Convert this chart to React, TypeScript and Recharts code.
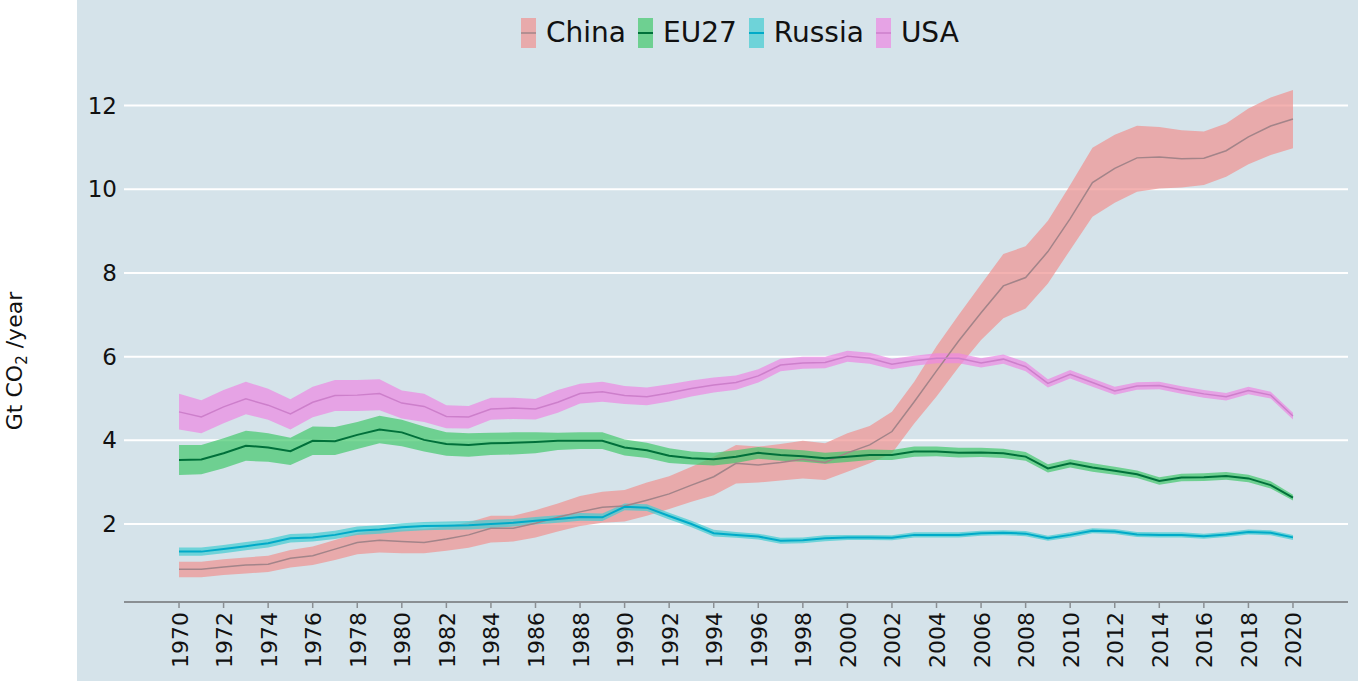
import React from 'react';
import { ComposedChart, Area, Line, XAxis, YAxis, CartesianGrid } from 'recharts';

const years = [1970,1971,1972,1973,1974,1975,1976,1977,1978,1979,1980,1981,1982,1983,1984,1985,1986,1987,1988,1989,1990,1991,1992,1993,1994,1995,1996,1997,1998,1999,2000,2001,2002,2003,2004,2005,2006,2007,2008,2009,2010,2011,2012,2013,2014,2015,2016,2017,2018,2019,2020];

const chinaMid = [0.92,0.92,0.97,1.02,1.04,1.18,1.24,1.40,1.56,1.61,1.58,1.56,1.64,1.74,1.90,1.90,2.02,2.16,2.29,2.40,2.43,2.57,2.72,2.93,3.13,3.45,3.41,3.47,3.55,3.47,3.70,3.89,4.21,4.92,5.66,6.38,7.05,7.69,7.89,8.51,9.30,10.16,10.50,10.75,10.77,10.73,10.74,10.92,11.25,11.51,11.68];
const chinaHi = [1.10,1.10,1.16,1.20,1.24,1.38,1.46,1.62,1.78,1.86,1.86,1.88,1.94,2.04,2.20,2.20,2.33,2.49,2.67,2.77,2.81,2.99,3.14,3.37,3.61,3.89,3.85,3.91,3.99,3.93,4.17,4.34,4.68,5.40,6.25,7.00,7.73,8.45,8.64,9.25,10.10,10.99,11.30,11.52,11.49,11.41,11.38,11.57,11.93,12.19,12.37];
const chinaLo = [0.73,0.73,0.78,0.82,0.85,0.96,1.02,1.14,1.28,1.32,1.30,1.30,1.36,1.43,1.56,1.58,1.68,1.82,1.95,2.03,2.06,2.20,2.36,2.53,2.69,2.97,2.99,3.04,3.09,3.05,3.25,3.45,3.69,4.40,5.05,5.75,6.40,6.92,7.15,7.75,8.55,9.34,9.68,9.94,10.02,10.04,10.10,10.30,10.60,10.82,10.98];

const euMid = [3.53,3.54,3.69,3.87,3.83,3.74,3.99,3.98,4.13,4.26,4.19,4.01,3.91,3.89,3.93,3.94,3.96,3.99,3.99,3.99,3.83,3.76,3.63,3.57,3.55,3.61,3.70,3.65,3.62,3.57,3.61,3.65,3.65,3.73,3.73,3.70,3.71,3.69,3.61,3.33,3.45,3.35,3.27,3.19,3.03,3.11,3.12,3.15,3.09,2.93,2.63];
const euHi = [3.89,3.89,4.05,4.23,4.17,4.06,4.33,4.32,4.44,4.59,4.49,4.33,4.19,4.17,4.18,4.19,4.19,4.18,4.19,4.19,4.02,3.94,3.81,3.73,3.70,3.76,3.84,3.79,3.76,3.70,3.74,3.78,3.77,3.85,3.85,3.82,3.82,3.80,3.72,3.43,3.55,3.45,3.37,3.28,3.12,3.20,3.21,3.24,3.18,3.02,2.70];
const euLo = [3.17,3.19,3.33,3.51,3.49,3.41,3.65,3.65,3.79,3.93,3.86,3.73,3.63,3.61,3.65,3.66,3.69,3.77,3.79,3.79,3.64,3.58,3.46,3.42,3.40,3.46,3.56,3.51,3.49,3.44,3.48,3.53,3.53,3.61,3.62,3.59,3.60,3.58,3.51,3.23,3.35,3.25,3.18,3.10,2.94,3.02,3.03,3.06,3.00,2.85,2.56];

const ruMid = [1.34,1.34,1.40,1.47,1.54,1.66,1.68,1.74,1.84,1.87,1.92,1.95,1.96,1.97,2.00,2.03,2.08,2.12,2.17,2.16,2.41,2.39,2.19,2.00,1.78,1.74,1.70,1.60,1.61,1.66,1.68,1.68,1.67,1.74,1.74,1.74,1.78,1.79,1.77,1.66,1.74,1.84,1.82,1.75,1.74,1.74,1.71,1.75,1.81,1.79,1.68];
const ruHi = [1.44,1.44,1.50,1.57,1.64,1.76,1.78,1.84,1.94,1.97,2.02,2.05,2.06,2.07,2.10,2.12,2.17,2.21,2.26,2.25,2.49,2.47,2.27,2.08,1.86,1.81,1.77,1.67,1.68,1.73,1.74,1.74,1.73,1.80,1.80,1.80,1.84,1.85,1.83,1.72,1.80,1.90,1.88,1.81,1.80,1.80,1.77,1.81,1.87,1.85,1.74];
const ruLo = [1.24,1.24,1.30,1.37,1.44,1.56,1.58,1.64,1.74,1.77,1.82,1.85,1.86,1.87,1.90,1.94,1.99,2.03,2.08,2.07,2.33,2.31,2.11,1.92,1.70,1.67,1.63,1.53,1.54,1.59,1.62,1.62,1.61,1.68,1.68,1.68,1.72,1.73,1.71,1.60,1.68,1.78,1.76,1.69,1.68,1.68,1.65,1.69,1.75,1.73,1.62];

const usaMid = [4.68,4.56,4.80,4.99,4.84,4.63,4.91,5.07,5.08,5.12,4.89,4.81,4.57,4.56,4.75,4.77,4.75,4.91,5.12,5.16,5.07,5.04,5.13,5.24,5.32,5.38,5.54,5.80,5.85,5.86,6.01,5.96,5.82,5.90,5.96,5.96,5.85,5.94,5.76,5.36,5.58,5.38,5.18,5.30,5.31,5.20,5.11,5.04,5.19,5.08,4.58];
const usaHi = [5.11,4.96,5.20,5.40,5.23,4.98,5.28,5.44,5.44,5.46,5.19,5.11,4.84,4.82,5.02,5.02,4.99,5.20,5.35,5.40,5.30,5.26,5.34,5.43,5.50,5.55,5.70,5.95,6.00,6.00,6.14,6.09,5.95,6.02,6.08,6.08,5.96,6.05,5.87,5.46,5.68,5.48,5.28,5.39,5.40,5.29,5.20,5.13,5.28,5.16,4.66];
const usaLo = [4.26,4.17,4.41,4.62,4.49,4.26,4.55,4.70,4.70,4.72,4.52,4.44,4.29,4.28,4.49,4.51,4.50,4.66,4.88,4.92,4.87,4.84,4.93,5.05,5.14,5.21,5.38,5.65,5.71,5.72,5.88,5.83,5.70,5.78,5.84,5.84,5.74,5.83,5.65,5.26,5.48,5.28,5.09,5.21,5.22,5.11,5.02,4.95,5.10,5.00,4.50];

const xTicks = [1970,1972,1974,1976,1978,1980,1982,1984,1986,1988,1990,1992,1994,1996,1998,2000,2002,2004,2006,2008,2010,2012,2014,2016,2018,2020];
const yTicks = [2,4,6,8,10,12];

const seriesNames = ['China', 'EU27', 'Russia', 'USA'];
const bandColors = ['#f09290', '#42c86b', '#42ccd2', '#ec88e3'];
const lineColors = ['#a38489', '#00703a', '#00aac8', '#cd7fcb'];
const lineWidths = [1.5, 2, 2, 1.5];

const BG = '#d5e3ea';

const data = years.map((y, i) => ({
  year: y,
  chinaBand: [chinaLo[i], chinaHi[i]],
  china: chinaMid[i],
  euBand: [euLo[i], euHi[i]],
  eu: euMid[i],
  ruBand: [ruLo[i], ruHi[i]],
  ru: ruMid[i],
  usaBand: [usaLo[i], usaHi[i]],
  usa: usaMid[i],
}));

const bandKeys = ['chinaBand', 'euBand', 'ruBand', 'usaBand'];
const lineKeys = ['china', 'eu', 'ru', 'usa'];

const FONT = '"DejaVu Sans", sans-serif';

const XTick = (props: any) => {
  const { x, y, payload } = props;
  return (
    <text
      transform={`translate(${x + 1},${y + 2}) rotate(-90)`}
      textAnchor="end"
      dominantBaseline="central"
      fontSize={22}
      fontFamily={FONT}
      fill="#111"
    >
      {payload.value}
    </text>
  );
};

const gridGen = (props: any) => {
  const scale = props?.yAxis?.scale;
  if (scale && typeof scale === 'function') {
    return yTicks.map((t) => scale(t));
  }
  if (scale && typeof scale.map === 'function') {
    return yTicks.map((t) => scale.map(t));
  }
  return [];
};

export default function App() {
  return (
    <div style={{ position: 'absolute', left: 0, top: 0, width: 1358, height: 681, background: '#ffffff', overflow: 'hidden' }}>
      <div style={{ position: 'absolute', left: 77, top: 0, width: 1281, height: 681, background: BG }} />
      <div style={{ position: 'absolute', left: 0, top: 0 }}>
        <ComposedChart width={1358} height={681} data={data} margin={{ top: 70, right: 10, bottom: 0, left: 0 }}>
          <CartesianGrid
            horizontal={true}
            vertical={false}
            stroke="#ffffff"
            strokeWidth={2}
            horizontalCoordinatesGenerator={gridGen}
          />
          <XAxis
            dataKey="year"
            type="number"
            domain={[1967.53, 2022.47]}
            ticks={xTicks}
            interval={0}
            height={79}
            axisLine={{ stroke: '#8a8f93', strokeWidth: 2 }}
            tickLine={{ stroke: '#8a8f93', strokeWidth: 1.5 }}
            tickSize={6}
            tickMargin={2}
            tick={<XTick />}
          />
          <YAxis
            type="number"
            domain={[0.136, 12.85]}
            ticks={yTicks}
            width={124}
            axisLine={false}
            tickLine={false}
            tickSize={0}
            tickMargin={7}
            allowDataOverflow={true}
            tick={{ fontSize: 23, fontFamily: FONT, fill: '#111' }}
          />
          {bandKeys.map((k, i) => (
            <Area
              key={k}
              type="linear"
              dataKey={k}
              stroke="none"
              fill={bandColors[i]}
              fillOpacity={0.7}
              isAnimationActive={false}
              activeDot={false}
            />
          ))}
          {lineKeys.map((k, i) => (
            <Line
              key={k}
              type="linear"
              dataKey={k}
              stroke={lineColors[i]}
              strokeWidth={lineWidths[i]}
              dot={false}
              activeDot={false}
              isAnimationActive={false}
            />
          ))}
        </ComposedChart>
      </div>
      <svg style={{ position: 'absolute', left: 0, top: 0 }} width={60} height={681}>
        <text
          transform="translate(22,361) rotate(-90)"
          textAnchor="middle"
          fontSize={22}
          fontFamily={FONT}
          fill="#111"
        >
          Gt CO<tspan fontSize={15} dy={5}>2</tspan><tspan dy={-5}> /year</tspan>
        </text>
      </svg>
      <div
        style={{
          position: 'absolute',
          left: 521,
          top: 18,
          display: 'flex',
          alignItems: 'center',
          gap: 12,
          fontFamily: FONT,
          fontSize: 28,
          color: '#111',
          whiteSpace: 'nowrap',
        }}
      >
        {seriesNames.map((n, i) => (
          <div key={n} style={{ display: 'flex', alignItems: 'center', gap: 10 }}>
            <svg width={15} height={30}>
              <rect x={0} y={0} width={15} height={30} fill={bandColors[i]} fillOpacity={0.7} />
              <line x1={0} x2={15} y1={15} y2={15} stroke={lineColors[i]} strokeWidth={lineWidths[i]} />
            </svg>
            <span style={{ lineHeight: '30px' }}>{n}</span>
          </div>
        ))}
      </div>
    </div>
  );
}
